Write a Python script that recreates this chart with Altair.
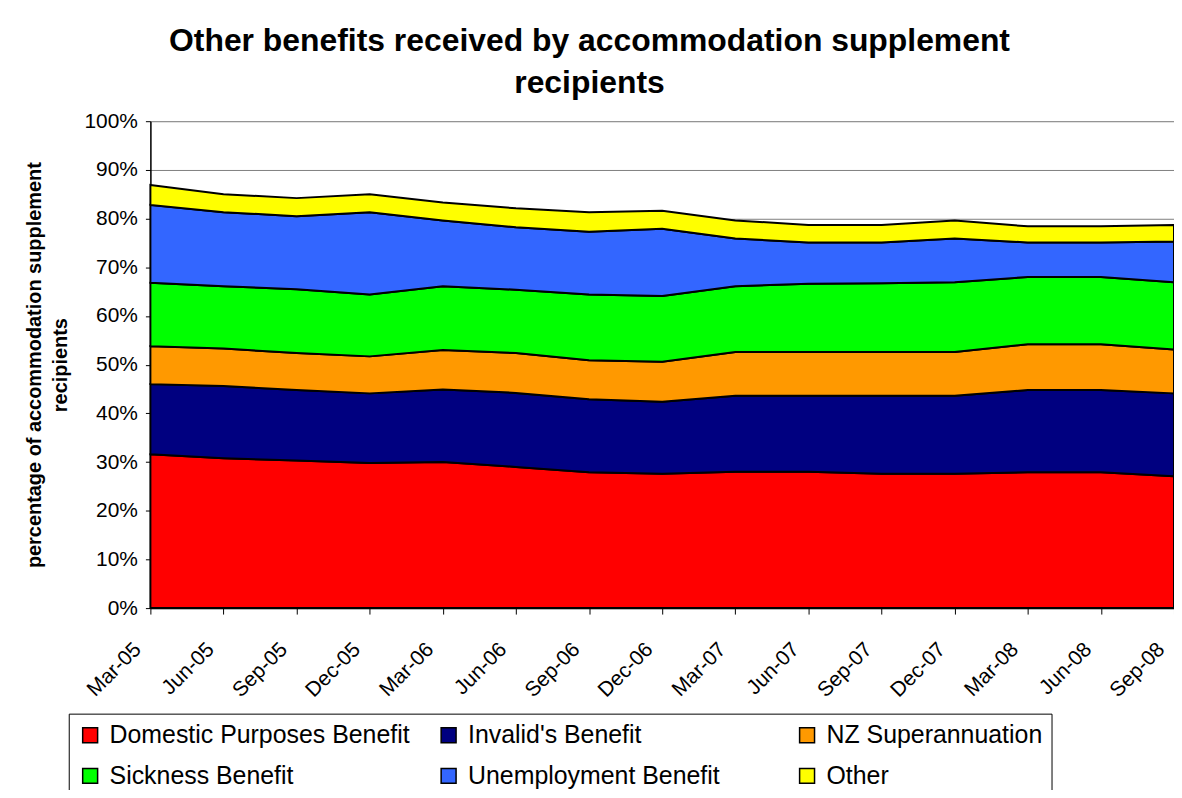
import altair as alt
import pandas as pd

quarters = ["Mar-05", "Jun-05", "Sep-05", "Dec-05", "Mar-06", "Jun-06", "Sep-06",
            "Dec-06", "Mar-07", "Jun-07", "Sep-07", "Dec-07", "Mar-08", "Jun-08", "Sep-08"]

series_names = ["Domestic Purposes Benefit", "Invalid's Benefit", "NZ Superannuation",
                "Sickness Benefit", "Unemployment Benefit", "Other"]

domestic = [31.6, 30.8, 30.3, 29.8, 30.0, 29.0, 27.9, 27.6, 28.0, 28.0, 27.6, 27.6, 27.9, 27.9, 27.1]
invalids = [14.4, 14.8, 14.5, 14.3, 14.9, 15.2, 15.0, 14.8, 15.6, 15.6, 16.0, 16.0, 16.9, 16.9, 17.0]
nz_super = [7.8, 7.7, 7.6, 7.6, 8.1, 8.2, 8.0, 8.2, 9.0, 9.0, 9.0, 9.0, 9.4, 9.4, 9.0]
sickness = [13.0, 12.8, 13.1, 12.7, 13.1, 13.0, 13.5, 13.5, 13.5, 14.0, 14.1, 14.3, 13.8, 13.8, 13.8]
unemployment = [16.0, 15.2, 15.0, 16.9, 13.5, 12.8, 12.9, 13.8, 9.8, 8.5, 8.4, 9.0, 7.1, 7.1, 8.4]
other = [4.1, 3.7, 3.7, 3.7, 3.7, 3.9, 4.0, 3.7, 3.7, 3.6, 3.6, 3.7, 3.3, 3.3, 3.4]

colors = ["#FF0000", "#000080", "#FF9900", "#00FF00", "#3366FF", "#FFFF00"]

all_series = [domestic, invalids, nz_super, sickness, unemployment, other]
rows = []
for k, (name, vals) in enumerate(zip(series_names, all_series)):
    for q, v in zip(quarters, vals):
        rows.append({"quarter": q, "series": name, "value": v / 100.0, "k": k})
df = pd.DataFrame(rows)

FONT = "Liberation Sans"

chart = alt.Chart(df).mark_area(
    stroke="black", strokeWidth=2, opacity=1
).encode(
    x=alt.X("quarter:O", sort=quarters,
            scale=alt.Scale(type="point", padding=0),
            axis=alt.Axis(title=None, labelAngle=-45, labelAlign="right",
                          labelBaseline="middle", labelFontSize=21, labelPadding=32,
                          labelOffset=-13,
                          labelColor="black", tickColor="black", tickSize=6,
                          domainColor="black", domainWidth=1.5, grid=False,
                          labelFont=FONT)),
    y=alt.Y("value:Q", stack="zero",
            scale=alt.Scale(domain=[0, 1], nice=False),
            axis=alt.Axis(title=["percentage of accommodation supplement", "recipients"],
                          titleFontSize=20, titleFontWeight="bold", titleColor="black",
                          titleFont=FONT, titlePadding=14, titleLineHeight=26,
                          format=".0%", values=[i / 10 for i in range(11)],
                          labelFontSize=21, labelColor="black", labelPadding=8,
                          labelFont=FONT, tickColor="black", tickSize=5,
                          domainColor="black", domainWidth=1.5,
                          grid=True, gridColor="#808080", gridWidth=1)),
    color=alt.Color("series:N", sort=series_names,
                    scale=alt.Scale(domain=series_names, range=colors),
                    legend=alt.Legend(title=None, orient="none", legendX=-82, legendY=595,
                                      direction="horizontal",
                                      columns=3, gridAlign="all", columnPadding=26,
                                      rowPadding=15, padding=9,
                                      symbolType="square", symbolSize=225,
                                      symbolStrokeColor="black", symbolStrokeWidth=1.5,
                                      labelFontSize=25, labelFont=FONT, labelColor="black",
                                      labelOffset=7, labelLimit=400,
                                      strokeColor="black", fillColor="white")),
    order=alt.Order("k:Q", sort="ascending"),
).properties(
    width=1028,
    height=489,
    title=alt.TitleParams(
        text=["Other benefits received by accommodation supplement", "recipients"],
        fontSize=32, fontWeight="bold", font=FONT, color="black",
        anchor="middle", dx=-73, offset=10, lineHeight=42,
    ),
    padding={"left": 143, "top": 112, "right": 0, "bottom": 181},
    autosize=alt.AutoSizeParams(type="none"),
).configure_view(stroke=None).configure(background="white")

chart.save("out.html", embed_options={"renderer": "svg", "actions": False})
